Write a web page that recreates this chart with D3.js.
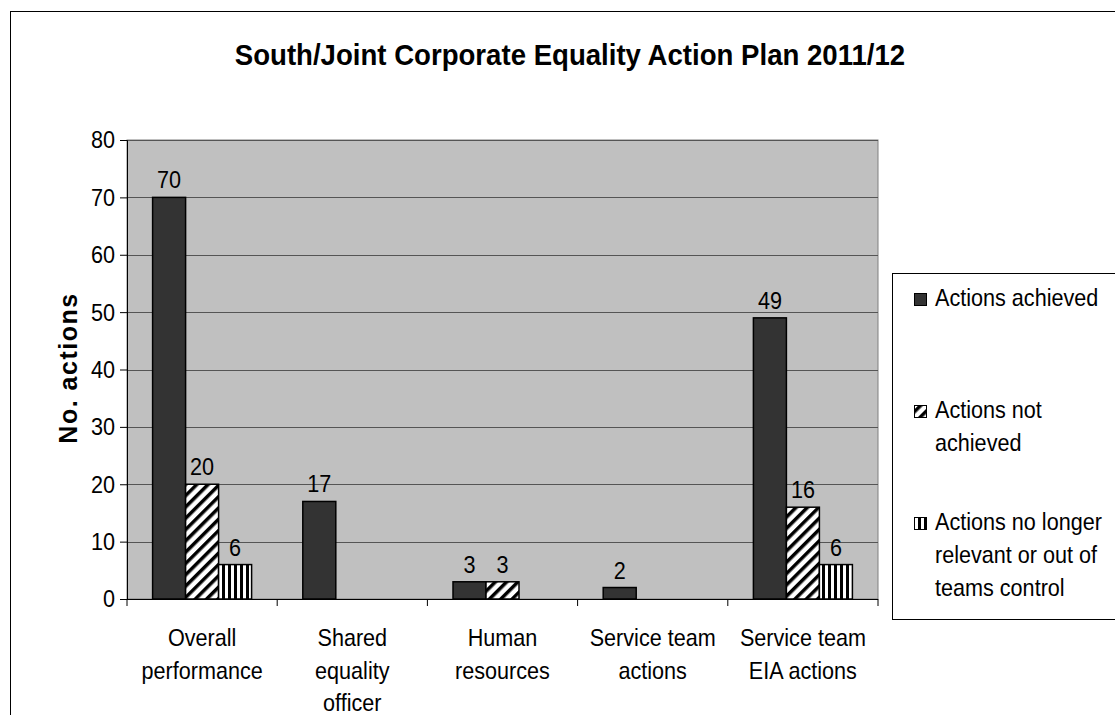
<!DOCTYPE html>
<html><head><meta charset="utf-8">
<script src="https://cdn.jsdelivr.net/npm/d3@7"></script>
<style>body{margin:0;background:#fff}svg{display:block}text{font-family:"Liberation Sans",Arial,sans-serif;fill:#000}</style>
</head><body>
<svg id="c" width="1115" height="715"></svg>
<script>
const categories = [["Overall","performance"],["Shared","equality","officer"],["Human","resources"],["Service team","actions"],["Service team","EIA actions"]];
const seriesNames = [["Actions achieved"],["Actions not","achieved"],["Actions no longer","relevant or out of","teams control"]];
const achieved = [70,17,3,2,49];
const notAchieved = [20,0,3,0,16];
const noLonger = [6,0,0,0,6];
const yTicks = [0,10,20,30,40,50,60,70,80];
const title = "South/Joint Corporate Equality Action Plan 2011/12";
const yTitle = "No. actions";

const series = [achieved, notAchieved, noLonger];
const fills = ["#333333","url(#diag)","url(#vert)"];

const FS = 24, SX = 0.9;
function txt(parent, x, y, str, opt={}){
  const t = parent.append("text")
    .attr("transform",`translate(${x},${y}) scale(${opt.sx||SX},1)`)
    .attr("text-anchor",opt.anchor||"start")
    .attr("font-size",opt.size||FS);
  if(opt.bold) t.attr("font-weight","bold");
  if(opt.dy) t.attr("dy",opt.dy);
  t.text(str);
  return t;
}

const svg = d3.select("#c");
const defs = svg.append("defs");
const pd = defs.append("pattern").attr("id","diag").attr("patternUnits","userSpaceOnUse").attr("width",8).attr("height",8).attr("patternTransform","rotate(45)");
pd.append("rect").attr("width",8).attr("height",8).attr("fill","#fff");
pd.append("rect").attr("width",3.5).attr("height",8).attr("fill","#000");
const pv = defs.append("pattern").attr("id","vert").attr("patternUnits","userSpaceOnUse").attr("width",6).attr("height",6);
pv.append("rect").attr("width",6).attr("height",6).attr("fill","#fff");
pv.append("rect").attr("width",3).attr("height",6).attr("fill","#000");

// outer frame
svg.append("rect").attr("x",10.5).attr("y",11.5).attr("width",1120).attr("height",720).attr("fill","none").attr("stroke","#000").attr("stroke-width",1);

const L=127,R=878,T=140,B=599;
const x = d3.scaleBand().domain(d3.range(categories.length)).range([L,R]);
const y = d3.scaleLinear().domain([0,80]).range([B,T]);
const groupW = 99;
const xs = d3.scaleBand().domain(d3.range(3)).range([0,groupW]);

svg.append("rect").attr("x",L).attr("y",T).attr("width",R-L).attr("height",B-T).attr("fill","#c0c0c0").attr("stroke","#808080");

svg.append("g").selectAll("line").data(yTicks.slice(1)).join("line")
 .attr("x1",L).attr("x2",R).attr("y1",d=>Math.round(y(d))+0.5).attr("y2",d=>Math.round(y(d))+0.5).attr("stroke","#555").attr("stroke-width",1);

series.forEach((s,si)=>{
  const g = svg.append("g");
  s.forEach((v,ci)=>{
    if(!v) return;
    const bx = x(ci)+(x.bandwidth()-groupW)/2+xs(si);
    g.append("rect").attr("x",bx).attr("y",y(v)).attr("width",xs.bandwidth()).attr("height",y(0)-y(v))
      .attr("fill",fills[si]).attr("stroke","#000").attr("stroke-width",1.5);
    txt(g, bx+xs.bandwidth()/2, y(v)-9, v, {anchor:"middle"});
  });
});

// y axis
const ya = svg.append("g").attr("transform",`translate(${L},0)`).call(d3.axisLeft(y).tickValues(yTicks).tickSize(7).tickFormat(""));
ya.select(".domain").attr("stroke","#000");
ya.selectAll(".tick line").attr("stroke","#000");
yTicks.forEach(v=>txt(svg, L-12, y(v), v, {anchor:"end", dy:"0.35em"}));

// x axis
svg.append("line").attr("x1",L).attr("x2",R).attr("y1",B+0.5).attr("y2",B+0.5).attr("stroke","#000");
svg.append("g").selectAll("line").data(d3.range(categories.length+1)).join("line")
  .attr("x1",d=>d<categories.length?x(d):R).attr("x2",d=>d<categories.length?x(d):R)
  .attr("y1",B).attr("y2",B+7).attr("stroke","#000");
categories.forEach((c,i)=>{
  c.forEach((ln,j)=>txt(svg, x(i)+x.bandwidth()/2, 646+j*32.5, ln, {anchor:"middle"}));
});

// titles
txt(svg, 570, 65, title, {anchor:"middle", size:30, bold:true, sx:0.92});
svg.append("text").attr("transform","translate(77,368) rotate(-90)").attr("text-anchor","middle")
  .attr("font-size",25).attr("font-weight","bold").attr("letter-spacing",1.5).text(yTitle);

// legend
svg.append("rect").attr("x",892.5).attr("y",273.5).attr("width",240).attr("height",346).attr("fill","#fff").attr("stroke","#000");
const legY = [306,418,530];
seriesNames.forEach((nm,i)=>{
  svg.append("rect").attr("x",914.5).attr("y",legY[i]-12.5).attr("width",12).attr("height",12).attr("fill",fills[i]).attr("stroke","#000");
  nm.forEach((ln,j)=>txt(svg, 935, legY[i]+j*33, ln));
});
</script>
</body></html>
